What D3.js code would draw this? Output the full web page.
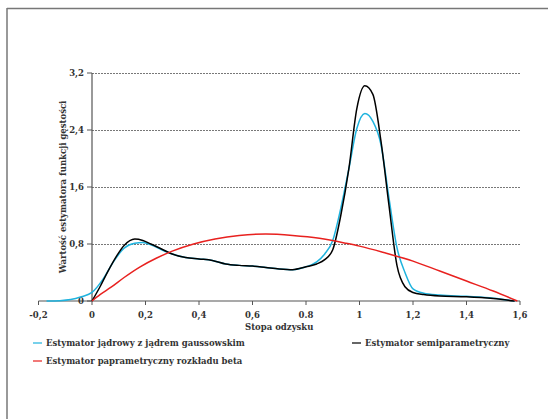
<!DOCTYPE html>
<html>
<head>
<meta charset="utf-8">
<script src="https://cdn.jsdelivr.net/npm/d3@7"></script>
<style>
  html, body { margin: 0; padding: 0; background: #fff; }
  svg { display: block; }
  text { font-family: "DejaVu Serif", "Liberation Serif", serif; font-weight: bold; fill: #333; }
</style>
</head>
<body>
<svg id="chart"></svg>
<script>
// x ticks and y ticks
const xTicks = [-0.2, 0, 0.2, 0.4, 0.6, 0.8, 1, 1.2, 1.4, 1.6];
const xTickLabels = ["-0,2", "0", "0,2", "0,4", "0,6", "0.8", "1", "1,2", "1,4", "1,6"];
const yTicks = [0, 0.8, 1.6, 2.4, 3.2];
const yTickLabels = ["0", "0,8", "1,6", "2,4", "3,2"];

// Estymator jądrowy (gaussowski) - blue
const kernelX = [-0.17, -0.12, -0.08, -0.04, 0, 0.04, 0.08, 0.12, 0.16, 0.19, 0.22, 0.26, 0.3, 0.35, 0.4, 0.45, 0.5, 0.55, 0.6, 0.65, 0.7, 0.75, 0.8, 0.84, 0.87, 0.9, 0.93, 0.96, 0.99, 1.02, 1.05, 1.08, 1.11, 1.14, 1.17, 1.2, 1.24, 1.3, 1.4, 1.5, 1.58];
const kernelY = [0, 0.005, 0.02, 0.06, 0.12, 0.3, 0.55, 0.74, 0.81, 0.82, 0.79, 0.72, 0.66, 0.61, 0.59, 0.57, 0.52, 0.5, 0.49, 0.47, 0.45, 0.44, 0.48, 0.55, 0.66, 0.85, 1.3, 1.85, 2.42, 2.63, 2.52, 2.2, 1.45, 0.75, 0.4, 0.17, 0.11, 0.085, 0.065, 0.04, 0];

// Estymator semiparametryczny - black
const semiX = [0, 0.03, 0.06, 0.09, 0.12, 0.16, 0.19, 0.22, 0.26, 0.3, 0.35, 0.4, 0.45, 0.5, 0.55, 0.6, 0.65, 0.7, 0.75, 0.8, 0.84, 0.87, 0.9, 0.93, 0.96, 0.99, 1.02, 1.05, 1.08, 1.11, 1.14, 1.17, 1.2, 1.24, 1.3, 1.4, 1.5, 1.58];
const semiY = [0, 0.2, 0.42, 0.62, 0.78, 0.87, 0.85, 0.8, 0.73, 0.66, 0.61, 0.59, 0.57, 0.52, 0.5, 0.49, 0.47, 0.45, 0.44, 0.48, 0.52, 0.58, 0.72, 1.2, 1.85, 2.7, 3.02, 2.9, 2.25, 1.35, 0.5, 0.2, 0.12, 0.09, 0.07, 0.06, 0.035, 0];

// Estymator parametryczny rozkładu beta - red
const betaX = [0, 0.03, 0.07, 0.12, 0.18, 0.24, 0.3, 0.38, 0.46, 0.55, 0.65, 0.75, 0.85, 0.95, 1.0, 1.1, 1.2, 1.3, 1.4, 1.5, 1.59];
const betaY = [0, 0.09, 0.19, 0.33, 0.48, 0.6, 0.7, 0.8, 0.87, 0.92, 0.94, 0.92, 0.88, 0.81, 0.77, 0.67, 0.56, 0.42, 0.28, 0.14, 0];

const seriesNames = [
    "Estymator jądrowy z jądrem gaussowskim",
    "Estymator semiparametryczny",
    "Estymator paprametryczny rozkładu beta"
];
const seriesColors = ["#1fb3de", "#000000", "#e8211f"];

const series = [
    { name: seriesNames[0], color: seriesColors[0], xs: kernelX, ys: kernelY },
    { name: seriesNames[1], color: seriesColors[1], xs: semiX, ys: semiY },
    { name: seriesNames[2], color: seriesColors[2], xs: betaX, ys: betaY }
];

const width = 548;
const height = 419;

const svg = d3.select("#chart")
    .attr("width", width)
    .attr("height", height);

// outer frame (only top and left edges visible)
svg.append("line")
    .attr("x1", 7).attr("y1", 8.5).attr("x2", width).attr("y2", 8.5)
    .attr("stroke", "#777").attr("stroke-width", 1.5);
svg.append("line")
    .attr("x1", 7).attr("y1", 8).attr("x2", 7).attr("y2", height)
    .attr("stroke", "#777").attr("stroke-width", 1.5);

const xScale = d3.scaleLinear().domain([-0.2, 1.6]).range([38.5, 520]);
const yScale = d3.scaleLinear().domain([0, 3.2]).range([301, 73]);

// gridlines
yTicks.filter(v => v > 0).forEach(v => {
    svg.append("line")
        .attr("x1", xScale(0)).attr("x2", xScale(1.6))
        .attr("y1", Math.round(yScale(v)) + 0.5).attr("y2", Math.round(yScale(v)) + 0.5)
        .attr("stroke", "#555")
        .attr("stroke-width", 0.8)
        .attr("stroke-dasharray", "2,1");
});

// y axis line
svg.append("line")
    .attr("x1", xScale(0)).attr("x2", xScale(0))
    .attr("y1", yScale(3.2)).attr("y2", yScale(0))
    .attr("stroke", "#555").attr("stroke-width", 1.2);

// x axis line
svg.append("line")
    .attr("x1", xScale(-0.2)).attr("x2", xScale(1.6))
    .attr("y1", yScale(0)).attr("y2", yScale(0))
    .attr("stroke", "#555").attr("stroke-width", 1.2);

xTicks.forEach((v, i) => {
    svg.append("line")
        .attr("x1", xScale(v)).attr("x2", xScale(v))
        .attr("y1", yScale(0)).attr("y2", yScale(0) + 4)
        .attr("stroke", "#555").attr("stroke-width", 1);
    svg.append("text")
        .attr("x", xScale(v))
        .attr("y", 318)
        .attr("text-anchor", "middle")
        .attr("font-size", "8.5px")
        .text(xTickLabels[i]);
});

yTicks.forEach((v, i) => {
    svg.append("line")
        .attr("x1", xScale(0) - 5).attr("x2", xScale(0))
        .attr("y1", yScale(v)).attr("y2", yScale(v))
        .attr("stroke", "#555").attr("stroke-width", 1);
    svg.append("text")
        .attr("x", 84)
        .attr("y", yScale(v) + 3)
        .attr("text-anchor", "end")
        .attr("font-size", "8.5px")
        .text(yTickLabels[i]);
});

// axis titles
svg.append("text")
    .attr("x", (xScale(-0.2) + xScale(1.6)) / 2)
    .attr("y", 330)
    .attr("text-anchor", "middle")
    .attr("font-size", "8.5px")
    .text("Stopa odzysku");

svg.append("text")
    .attr("transform", `translate(66,${(yScale(0) + yScale(3.2)) / 2}) rotate(-90)`)
    .attr("text-anchor", "middle")
    .attr("font-size", "8.5px")
    .text("Wartość estymatora funkcji gęstości");

// curves
const line = d3.line()
    .x(d => xScale(d[0]))
    .y(d => yScale(d[1]))
    .curve(d3.curveMonotoneX);

series.forEach(s => {
    const pts = s.xs.map((x, i) => [x, s.ys[i]]);
    svg.append("path")
        .attr("d", line(pts))
        .attr("fill", "none")
        .attr("stroke", s.color)
        .attr("stroke-width", 1.5);
});

// legend
const legendPos = [
    { x: 33, y: 346 },
    { x: 352, y: 346 },
    { x: 33, y: 364 }
];
series.forEach((s, i) => {
    const p = legendPos[i];
    svg.append("line")
        .attr("x1", p.x).attr("x2", p.x + 9)
        .attr("y1", p.y - 3).attr("y2", p.y - 3)
        .attr("stroke", s.color).attr("stroke-width", 1.2);
    svg.append("text")
        .attr("x", p.x + 13)
        .attr("y", p.y)
        .attr("font-size", "8.5px")
        .text(s.name);
});
</script>
</body>
</html>
